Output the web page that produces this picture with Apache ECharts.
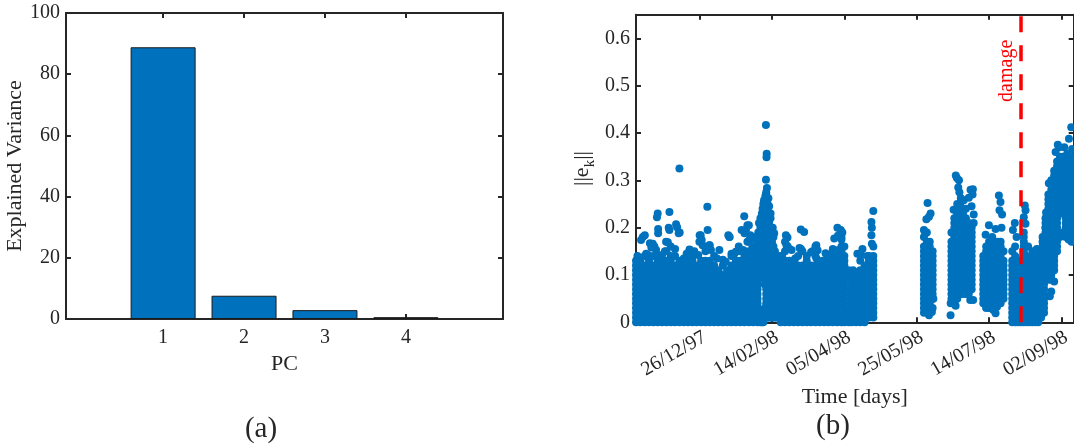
<!DOCTYPE html>
<html>
<head>
<meta charset="utf-8">
<script src="https://cdn.jsdelivr.net/npm/echarts@6/dist/echarts.min.js"></script>
<style>
html, body { margin: 0; padding: 0; background: #fff; }
#chart { width: 1074px; height: 447px; }
</style>
</head>
<body>
<div id="chart"></div>
<script>
// (a) explained variance per principal component
var pcs = [1, 2, 3, 4];
var explained = [88.8, 7.6, 2.9, 0.6];
var varTicks = [0, 20, 40, 60, 80, 100];

// (b) x values are days counted from 26/12/97
var dateTicks = [0, 50, 100, 150, 200, 250];
var dateLabels = ["26/12/97", "14/02/98", "05/04/98", "25/05/98", "14/07/98", "02/09/98"];
var ekTicks = [0, 0.1, 0.2, 0.3, 0.4, 0.5, 0.6];
var damageDay = 222;

// dense part of ||e_k||, one column every few days: [day, values in 1/100 ...]
var colsA = [
    [-44, 0, 1, 2, 3, 4, 5, 6, 7, 8, 9, 10, 11, 12, 13],
    [-41, 0, 1, 2, 3, 4, 5, 6, 7, 8, 9, 10, 11, 12, 13],
    [-38, 0, 1, 2, 3, 4, 5, 6, 7, 8, 9, 10, 11, 12, 14],
    [-35, 0, 1, 2, 3, 4, 5, 6, 7, 8, 9, 10, 11, 12, 13],
    [-32, 0, 1, 2, 3, 4, 5, 6, 7, 8, 9, 10, 11, 12, 14],
    [-29, 0, 1, 2, 3, 4, 5, 6, 7, 8, 9, 10, 11, 12, 13, 14],
    [-26, 0, 1, 2, 3, 4, 5, 6, 7, 8, 9, 10, 11, 12, 13],
    [-23, 0, 1, 2, 3, 4, 5, 6, 7, 8, 9, 10, 11, 12, 13, 15],
    [-20, 0, 1, 2, 3, 4, 5, 6, 7, 8, 9, 10, 11, 12, 13, 14],
    [-17, 0, 1, 2, 3, 4, 5, 6, 7, 8, 9, 10, 11, 12, 14],
    [-14, 0, 1, 2, 3, 4, 5, 6, 7, 8, 9, 10, 11, 12, 13],
    [-11, 0, 1, 2, 3, 4, 5, 6, 7, 8, 9, 10, 11, 12],
    [-8, 0, 1, 2, 3, 4, 5, 6, 7, 8, 9, 10, 11, 12, 13],
    [-5, 0, 1, 2, 3, 4, 5, 6, 7, 8, 9, 10, 11, 12, 13, 14],
    [-2, 0, 1, 2, 3, 4, 5, 6, 7, 8, 9, 10, 11, 12],
    [1, 0, 1, 2, 3, 4, 5, 6, 7, 8, 9, 10, 11, 12, 13],
    [4, 0, 1, 2, 3, 4, 5, 6, 7, 8, 9, 10, 11, 12, 13, 15],
    [7, 0, 1, 2, 3, 4, 5, 6, 7, 8, 9, 10, 11, 12, 13],
    [10, 0, 1, 2, 3, 4, 5, 6, 7, 8, 9, 10, 11, 12],
    [13, 0, 1, 2, 3, 4, 5, 6, 7, 8, 9, 10, 11],
    [16, 0, 1, 2, 3, 4, 5, 6, 7, 8, 9, 10, 12],
    [19, 0, 1, 2, 3, 4, 5, 6, 7, 8, 9, 10, 11],
    [22, 0, 1, 2, 3, 4, 5, 6, 7, 8, 9, 10, 11, 12, 14],
    [25, 0, 1, 2, 3, 4, 5, 6, 7, 8, 9, 10, 11, 12, 13],
    [28, 0, 1, 2, 3, 4, 5, 6, 7, 8, 9, 10, 11, 12, 13, 15],
    [31, 0, 1, 2, 3, 4, 5, 6, 7, 8, 9, 10, 11, 12, 13, 14, 15],
    [34, 0, 1, 2, 3, 4, 5, 6, 7, 8, 9, 10, 11, 12, 13, 14, 15, 17],
    [37, 0, 1, 2, 3, 4, 5, 6, 7, 8, 9, 10, 11, 12, 13, 14, 15, 16, 18],
    [40, 0, 1, 2, 3, 4, 5, 6, 7, 8, 9, 10, 11, 12, 13, 14, 15, 17]
];
var colsPeak = [
    [42, 0, 1, 2, 11, 12, 13, 14, 15, 16, 17, 18, 19, 20, 21, 22],
    [43, 0, 1, 10, 11, 12, 13, 14, 15, 16, 17, 18, 19, 20, 21, 22, 23],
    [44, 0, 1, 2, 10, 11, 12, 13, 14, 15, 16, 17, 18, 19, 20, 21, 22, 23, 24],
    [45, 1, 2, 3, 8, 9, 10, 11, 12, 13, 14, 15, 16, 17, 18, 19, 20, 21, 22, 23, 24, 25, 26],
    [46, 1, 2, 3, 4, 5, 6, 7, 8, 9, 10, 11, 12, 13, 14, 15, 16, 17, 18, 19, 20, 21, 22, 23, 24, 25, 26, 27],
    [47, 1, 2, 3, 4, 5, 6, 7, 8, 9, 10, 11, 12, 13, 14, 15, 16, 17, 18, 19, 20, 21, 22, 23, 24, 25],
    [48, 1, 2, 3, 4, 5, 6, 7, 8, 9, 10, 11, 12, 13, 14, 15, 16, 17, 18, 19, 20, 21, 22, 23],
    [49, 1, 2, 3, 4, 5, 6, 7, 8, 9, 10, 11, 12, 13, 14, 15, 16, 17, 18, 19, 20, 22],
    [50, 1, 2, 3, 4, 5, 6, 7, 8, 9, 10, 11, 12, 13, 14, 15, 16, 17, 18, 19],
    [51, 1, 2, 3, 4, 5, 6, 7, 8, 9, 10, 11, 12, 13, 14, 15, 16, 18],
    [52, 1, 2, 3, 4, 5, 6, 7, 8, 9, 10, 11, 12, 13, 14, 15],
    [53, 1, 2, 3, 4, 5, 6, 7, 8, 9, 10, 11, 12, 14]
];
var colsB = [
    [56, 0, 1, 2, 3, 4, 5, 6, 7, 8, 9, 10, 11, 12, 13, 14],
    [59, 0, 1, 2, 3, 4, 5, 6, 7, 8, 9, 10, 11, 12, 13, 15],
    [62, 0, 1, 2, 3, 4, 5, 6, 7, 8, 9, 10, 11, 12, 13],
    [65, 0, 1, 2, 3, 4, 5, 6, 7, 8, 9, 10, 11, 12, 13],
    [68, 0, 1, 2, 3, 4, 5, 6, 7, 8, 9, 10, 11, 12, 14],
    [71, 0, 1, 2, 3, 4, 5, 6, 7, 8, 9, 10, 11, 12],
    [74, 0, 1, 2, 3, 4, 5, 6, 7, 8, 9, 10, 11, 12, 13],
    [77, 0, 1, 2, 3, 4, 5, 6, 7, 8, 9, 10, 11, 12],
    [80, 0, 1, 2, 3, 4, 5, 6, 7, 8, 9, 10, 11, 12, 14],
    [83, 0, 1, 2, 3, 4, 5, 6, 7, 8, 9, 10, 11, 12],
    [86, 0, 1, 2, 3, 4, 5, 6, 7, 8, 9, 10, 11, 12],
    [89, 0, 1, 2, 3, 4, 5, 6, 7, 8, 9, 10, 11, 12, 13],
    [92, 0, 1, 2, 3, 4, 5, 6, 7, 8, 9, 10, 11, 12, 13, 15],
    [95, 0, 1, 2, 3, 4, 5, 6, 7, 8, 9, 10, 11, 12, 13, 14, 15],
    [98, 0, 1, 2, 3, 4, 5, 6, 7, 8, 9, 10, 11, 12, 13, 14, 15, 16, 18],
    [100, 0, 1, 2, 3, 4, 5, 6, 7, 8, 9, 10, 11, 12, 13, 14, 16]
];
var colsC = [
    [103, 0, 1, 2, 10, 11],
    [105, 0, 1, 2, 3, 4, 5, 6, 7, 8, 9],
    [108, 0, 1, 2, 3, 4, 5, 6, 7, 8, 9, 10],
    [111, 0, 1, 2, 3, 4, 5, 6, 7, 8, 9, 10, 11, 13],
    [114, 0, 1, 2, 3, 4, 5, 6, 7, 8, 9, 10, 11, 12],
    [117, 1, 2, 3, 4, 5, 6, 7, 8, 9, 10, 11, 12, 13, 14],
    [120, 1, 2, 3, 4, 5, 6, 7, 8, 9, 10, 11, 12, 13, 14, 16]
];
var colsD = [
    [155, 2, 3, 4, 5, 6, 7, 8, 9, 10, 11, 12, 13, 14, 15, 16, 18],
    [157, 3, 4, 5, 6, 7, 8, 9, 10, 11, 12, 13, 14, 15, 16, 17, 19],
    [159, 2, 3, 4, 5, 6, 7, 8, 9, 10, 11, 12, 13, 14, 15, 16, 17],
    [161, 3, 5, 6, 7, 8, 9, 10, 11, 12, 13, 14, 15]
];
var colsE = [
    [174, 5, 6, 7, 8, 9, 10, 11, 12, 13, 14, 15, 16, 17],
    [176, 4, 5, 6, 7, 8, 9, 10, 11, 12, 13, 14, 15, 16, 17, 18, 19, 20, 21, 22],
    [178, 5, 6, 7, 8, 9, 10, 11, 12, 13, 14, 15, 16, 17, 18, 19, 20, 21, 22, 23, 24, 25],
    [180, 6, 7, 8, 9, 10, 11, 12, 13, 14, 15, 16, 17, 18, 19, 20, 21, 22, 23, 24, 25],
    [182, 6, 7, 8, 9, 10, 11, 12, 13, 14, 15, 16, 17, 18, 19, 20, 21, 22, 23, 24],
    [184, 6, 7, 8, 9, 10, 11, 12, 13, 14, 15, 16, 17, 18, 19, 20, 21, 22],
    [186, 6, 7, 8, 9, 10, 11, 12, 13, 14, 15, 16, 17, 18, 19, 20, 21],
    [188, 7, 8, 9, 10, 11, 12, 13, 14, 15, 16, 17, 18, 19, 20]
];
var colsF = [
    [196, 4, 5, 6, 7, 8, 9, 10, 11, 12, 13, 14],
    [198, 3, 4, 5, 6, 7, 8, 9, 10, 11, 12, 13, 14, 15, 16],
    [200, 4, 5, 6, 7, 8, 9, 10, 11, 12, 13, 14, 15, 16, 17],
    [202, 3, 4, 5, 6, 7, 8, 9, 10, 11, 12, 13, 14, 15, 16, 17],
    [204, 4, 5, 6, 7, 8, 9, 10, 11, 12, 13, 14, 15, 16],
    [206, 4, 5, 6, 7, 8, 9, 10, 11, 12, 13, 14, 15, 17],
    [208, 4, 5, 6, 7, 8, 9, 10, 11, 12, 13, 14, 15, 16, 17],
    [210, 5, 6, 7, 8, 9, 10, 11, 12, 13, 15]
];
var colsG = [
    [216, 0, 1, 2, 3, 4, 5, 6, 7, 8, 9, 10, 11, 12, 13, 15],
    [218, 0, 1, 2, 3, 4, 5, 6, 7, 8, 9, 10, 11, 12, 13, 14, 16],
    [220, 0, 1, 2, 3, 4, 5, 6, 7, 8, 9, 10, 11, 12, 13],
    [222, 0, 1, 2, 3, 4, 5, 6, 7, 8, 9, 10, 11, 12, 13],
    [224, 0, 1, 2, 3, 4, 5, 6, 7, 8, 9, 10, 11, 12, 13, 14, 15, 16, 17, 18, 19],
    [226, 0, 1, 2, 3, 4, 5, 6, 7, 8, 9, 10, 11, 12, 13, 14, 16],
    [228, 0, 1, 2, 3, 4, 5, 6, 7, 8, 9, 10, 11, 12, 13],
    [230, 0, 1, 2, 3, 4, 5, 6, 7, 8, 9, 10, 11, 12, 13, 14],
    [232, 0, 1, 2, 3, 4, 5, 6, 7, 8, 9, 10, 11, 12, 13, 14],
    [234, 0, 1, 2, 3, 4, 5, 6, 7, 8, 9, 10, 11, 12, 13],
    [236, 1, 2, 3, 4, 5, 6, 7, 8, 9, 10, 11, 12, 13, 14, 15],
    [238, 2, 3, 4, 5, 6, 7, 8, 9, 10, 11, 12, 13, 14]
];
var colsH = [
    [237, 14, 15, 16, 17, 18],
    [239, 12, 13, 14, 15, 16, 17, 18, 19, 20, 21, 22],
    [241, 9, 10, 11, 12, 13, 14, 15, 16, 17, 18, 19, 20, 21, 22, 23, 24, 25, 26, 27],
    [243, 9, 10, 11, 12, 13, 14, 15, 16, 17, 18, 19, 20, 21, 22, 23, 24, 25, 26, 27, 28, 29, 30],
    [245, 11, 12, 13, 14, 15, 16, 17, 18, 19, 20, 21, 22, 23, 24, 25, 26, 27, 28, 29, 30, 31, 32],
    [247, 15, 16, 17, 18, 19, 20, 21, 22, 23, 24, 25, 26, 27, 28, 29, 30, 31, 32, 33, 34],
    [249, 18, 23, 24, 25, 26, 27, 28, 29, 30, 31, 32, 33, 34, 35],
    [251, 19, 23, 24, 25, 26, 27, 28, 29, 30, 31, 32, 33, 34, 35],
    [253, 18, 19, 20, 21, 22, 23, 24, 25, 26, 27, 28, 29, 30, 31, 32, 33, 34],
    [255, 18, 19, 20, 21, 22, 23, 24, 25, 26, 27, 28, 29, 30, 31, 32, 33, 34, 35],
    [257, 18, 19, 20, 21, 22, 23, 24, 25, 26, 27, 28, 29, 30, 31, 32, 33, 34, 35]
];

// isolated points [day, ||e_k||]
var ekOutliers = [
    [-43, 0.14], [-42.8, 0.135], [-40.5, 0.174], [-39.3, 0.18], [-37.9, 0.184], [-37, 0.145],
    [-35.9, 0.138], [-35.7, 0.142], [-34.4, 0.167], [-33.4, 0.158], [-32.4, 0.166], [-31.3, 0.16],
    [-30.1, 0.153], [-29, 0.23], [-29.5, 0.222], [-28.7, 0.197], [-28.7, 0.188], [-26, 0.142],
    [-24, 0.15], [-23.2, 0.17], [-22, 0.169], [-21.4, 0.2], [-20.9, 0.195], [-20.9, 0.233], [-20, 0.16],
    [-17, 0.155], [-16.3, 0.207], [-15.6, 0.201], [-14.5, 0.188], [-14, 0.325], [-13.8, 0.19],
    [-11, 0.135], [-9, 0.145], [-7, 0.154], [-6.9, 0.153], [-5, 0.145], [-3.7, 0.15], [-1, 0.142],
    [-0.2, 0.17], [0, 0.184], [0.7, 0.184], [1.4, 0.174], [2, 0.163], [5.3, 0.244], [5.5, 0.195],
    [6.7, 0.163], [6.9, 0.163], [7.8, 0.153], [10, 0.14], [12, 0.135], [13.6, 0.153], [16, 0.132],
    [18, 0.128], [19.8, 0.184], [20.5, 0.18], [20.7, 0.18], [22, 0.145], [24, 0.145], [25, 0.149],
    [27, 0.16], [29, 0.195], [30, 0.153], [30.8, 0.224], [31, 0.188], [32, 0.195], [33, 0.205],
    [33, 0.17], [34, 0.205], [34.5, 0.175], [35, 0.184], [36.5, 0.16], [37, 0.177], [38, 0.15],
    [40.5, 0.19], [41, 0.21], [43.5, 0.24], [44, 0.25], [44.5, 0.258], [45.5, 0.268], [45.8, 0.301],
    [45.8, 0.417], [46, 0.275], [46.2, 0.349], [46.3, 0.356], [46.5, 0.284], [47.5, 0.262],
    [48, 0.245], [49, 0.23], [50.5, 0.2], [51.5, 0.188],
    [57, 0.14], [59, 0.17], [59.6, 0.184], [60, 0.163], [60.7, 0.179], [60.8, 0.16], [62, 0.155],
    [63.5, 0.153], [66, 0.135], [69, 0.157], [69.9, 0.196], [70, 0.155], [71, 0.15], [72.2, 0.191],
    [74, 0.14], [77, 0.148], [78, 0.15], [80, 0.16], [80.6, 0.163], [80.7, 0.135], [81.5, 0.152],
    [85, 0.13], [87, 0.146], [88.3, 0.14], [90.6, 0.138], [92, 0.155], [93, 0.177], [95.2, 0.2],
    [95.5, 0.183], [96, 0.153], [97.5, 0.195], [98.6, 0.19], [98, 0.175],
    [106, 0.11], [107.5, 0.105], [109, 0.145], [111.6, 0.142], [112.5, 0.155], [116, 0.14],
    [118.7, 0.184], [118.7, 0.212], [119, 0.166], [119, 0.2], [120, 0.235],
    [155, 0.195], [156, 0.188], [156.7, 0.218], [157.5, 0.252], [158.5, 0.223], [158.5, 0.015],
    [159.6, 0.23], [160.5, 0.022], [161.5, 0.05],
    [173.4, 0.015], [173.5, 0.04], [174, 0.19], [175.5, 0.238], [176.9, 0.035], [177, 0.31],
    [177.8, 0.305], [178.7, 0.285], [179.2, 0.3], [179.5, 0.275], [180.5, 0.262], [182.5, 0.258],
    [184, 0.24], [186, 0.263], [187, 0.047], [187.2, 0.28], [187.9, 0.245], [188.6, 0.27],
    [188.8, 0.281], [189, 0.047], [189.4, 0.228], [189.4, 0.21],
    [197.6, 0.185], [198, 0.033], [199.9, 0.205], [200, 0.03], [202.2, 0.18], [203, 0.026],
    [204.5, 0.019], [204.5, 0.197], [205.5, 0.033], [206.8, 0.268], [207.2, 0.237], [207.9, 0.254],
    [208.6, 0.2], [209, 0.228],
    [216.5, 0.195], [217.8, 0.21], [219, 0.18], [224, 0.222], [224.7, 0.247], [225.2, 0.237],
    [225.2, 0.208], [227, 0.16], [230, 0.15], [233, 0.155],
    [236, 0.152], [238, 0.178], [239, 0.2], [239.4, 0.232], [241.3, 0.294], [242, 0.055],
    [243, 0.065], [244, 0.11], [245, 0.086], [246, 0.36], [247.5, 0.375], [248.6, 0.37],
    [252, 0.37], [254, 0.356], [255, 0.175], [255.2, 0.388], [256.8, 0.412], [257, 0.17],
    [257.4, 0.366]
];

var ekPoints = [];
[colsA, colsPeak, colsB, colsC, colsD, colsE, colsF, colsG, colsH].forEach(function (cols) {
    cols.forEach(function (c) {
        for (var i = 1; i < c.length; i++) {
            ekPoints.push([c[0], c[i] / 100]);
        }
    });
});
ekOutliers.forEach(function (p) {
    ekPoints.push(p);
});

var serif = '"Liberation Serif", "Times New Roman", serif';
var ink = "#262626";
var blue = "#0072BD";

var lineStyle = { color: ink, width: 2 };

function boxAxis(grid, extra) {
    var ax = {
        gridIndex: grid,
        type: "value",
        axisLine: { show: true, onZero: false, lineStyle: lineStyle },
        axisTick: { show: true, inside: true, length: 5, lineStyle: lineStyle },
        axisLabel: { show: false },
        splitLine: { show: false },
    };
    for (var k in extra) ax[k] = extra[k];
    return ax;
}

function ticks(values) {
    return { show: true, inside: true, length: 5, lineStyle: lineStyle, customValues: values };
}

var tickLabel = { fontFamily: serif, fontSize: 20, color: ink };
var nameStyle = { fontFamily: serif, fontSize: 22, color: ink };

var option = {
    animation: false,
    grid: [
        { left: 66, top: 13, width: 437, height: 306 },
        { left: 636, top: 14.7, width: 439, height: 307.6 },
    ],
    xAxis: [
        boxAxis(0, {
            min: -0.2,
            max: 5.2,
            position: "bottom",
            axisTick: ticks(pcs),
            axisLabel: Object.assign({ show: true, margin: 9, customValues: pcs }, tickLabel),
            name: "PC",
            nameLocation: "middle",
            nameGap: 32,
            nameTextStyle: nameStyle,
        }),
        boxAxis(0, { min: -0.2, max: 5.2, position: "top", axisTick: ticks(pcs) }),
        boxAxis(1, {
            min: -44,
            max: 258.5,
            position: "bottom",
            axisTick: ticks(dateTicks),
            axisLabel: Object.assign({
                show: true,
                margin: 5,
                rotate: 30,
                verticalAlign: "top",
                customValues: dateTicks,
                formatter: function (v) {
                    return dateLabels[dateTicks.indexOf(v)];
                },
            }, tickLabel),
            name: "Time [days]",
            nameLocation: "middle",
            nameGap: 64,
            nameTextStyle: nameStyle,
        }),
        boxAxis(1, { min: -44, max: 258.5, position: "top", axisTick: ticks(dateTicks) }),
    ],
    yAxis: [
        boxAxis(0, {
            min: 0,
            max: 100,
            position: "left",
            axisTick: ticks(varTicks),
            axisLabel: Object.assign({ show: true, margin: 6, customValues: varTicks }, tickLabel),
            name: "Explained Variance",
            nameLocation: "middle",
            nameGap: 40,
            nameTextStyle: nameStyle,
        }),
        boxAxis(0, { min: 0, max: 100, position: "right", axisTick: ticks(varTicks) }),
        boxAxis(1, {
            min: 0,
            max: 0.65,
            position: "left",
            axisTick: ticks(ekTicks),
            axisLabel: Object.assign({ show: true, margin: 6, customValues: ekTicks }, tickLabel),
            name: "{a|||e}{k|k}{a|||}",
            nameLocation: "middle",
            nameGap: 38,
            nameTextStyle: {
                color: ink,
                rich: {
                    a: { fontFamily: serif, fontSize: 22, color: ink, lineHeight: 32, verticalAlign: "middle" },
                    k: { fontFamily: serif, fontSize: 15, color: ink, lineHeight: 15, verticalAlign: "bottom" },
                },
            },
        }),
        boxAxis(1, { min: 0, max: 0.65, position: "right", axisTick: ticks(ekTicks) }),
    ],
    series: [
        {
            type: "bar",
            xAxisIndex: 0,
            yAxisIndex: 0,
            barWidth: 65,
            data: pcs.map(function (p, i) {
                return [p, explained[i]];
            }),
            itemStyle: { color: blue, borderColor: "#1a1a1a", borderWidth: 1 },
        },
        {
            type: "scatter",
            xAxisIndex: 2,
            yAxisIndex: 2,
            symbolSize: 8,
            progressive: 0,
            data: ekPoints,
            itemStyle: { color: blue, opacity: 1 },
            markLine: {
                silent: true,
                symbol: "none",
                animation: false,
                lineStyle: { color: "#FF0000", width: 3.5, type: [16, 13] },
                label: {
                    show: true,
                    position: "insideEndTop",
                    formatter: "damage",
                    fontFamily: serif,
                    fontSize: 20,
                    color: "#FF0000",
                    distance: [25, 4],
                },
                data: [[{ coord: [damageDay, 0] }, { coord: [damageDay, 0.65] }]],
            },
        },
    ],
    graphic: [
        {
            type: "text",
            x: 261,
            y: 429,
            style: { text: "(a)", font: "29px " + serif, fill: ink, textAlign: "center", textVerticalAlign: "middle", align: "center", verticalAlign: "middle" },
        },
        {
            type: "text",
            x: 833,
            y: 426,
            style: { text: "(b)", font: "29px " + serif, fill: ink, textAlign: "center", textVerticalAlign: "middle", align: "center", verticalAlign: "middle" },
        },
    ],
};

var chart = echarts.init(document.getElementById("chart"));
chart.setOption(option);
</script>
</body>
</html>
